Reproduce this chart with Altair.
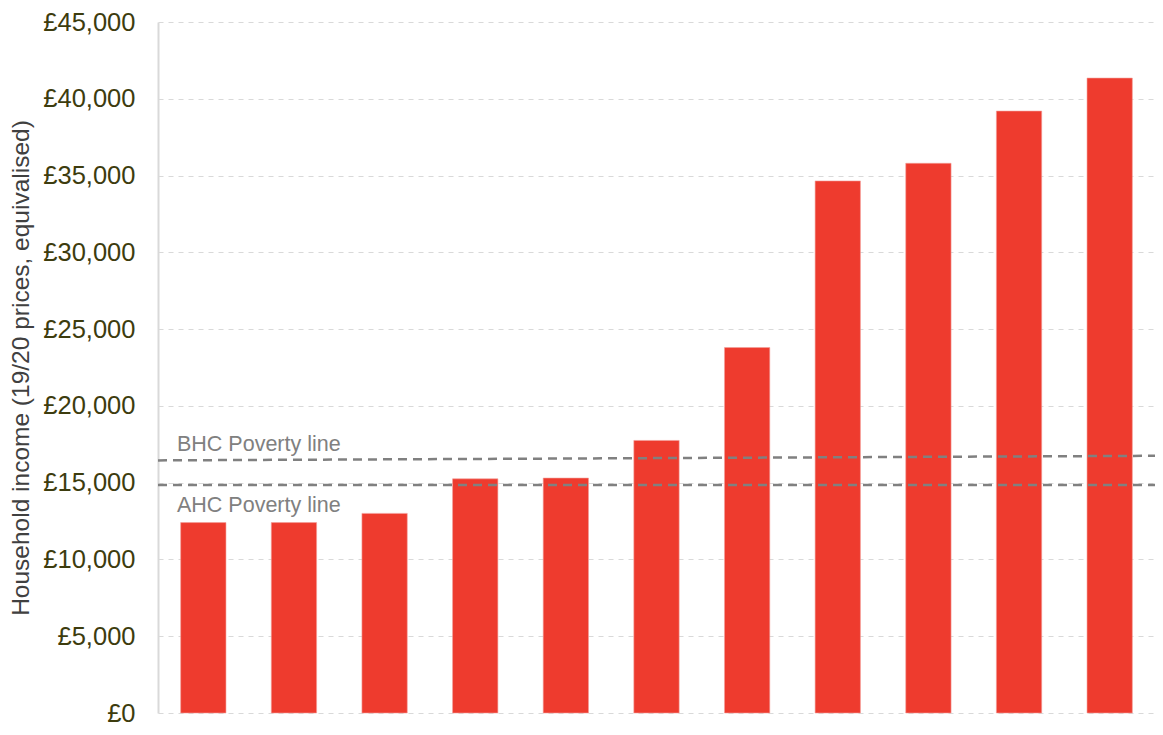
import altair as alt
import pandas as pd

# ---- data ----
groups = [str(i) for i in range(1, 12)]
incomes = [12400, 12400, 13000, 15250, 15300, 17750, 23800, 34650, 35800, 39200, 41350]

line_names = ["BHC Poverty line", "AHC Poverty line"]
line_start = [16450, 14850]
line_end = [16750, 14850]

y_ticks = list(range(0, 45001, 5000))
y_title = "Household income (19/20 prices, equivalised)"

W, H = 997, 691
FONT = "Liberation Sans"

bars_df = pd.DataFrame({"group": groups, "income": incomes})
lines_df = pd.DataFrame({"name": line_names, "start": line_start, "end": line_end})

y_scale = alt.Scale(domain=[0, 45000], nice=False)
y_axis = alt.Axis(
    values=y_ticks,
    labelExpr="'£' + format(datum.value, ',')",
    title=y_title,
)

bars = alt.Chart(bars_df).mark_bar(color="#EE3B2E", stroke="#F4A09A", strokeWidth=0.6).encode(
    x=alt.X("group:N", sort=groups, axis=None,
            scale=alt.Scale(paddingInner=0.5, paddingOuter=0.25)),
    y=alt.Y("income:Q", scale=y_scale, axis=y_axis),
)

rules = alt.Chart(lines_df).mark_rule(
    color="#808080", strokeWidth=2.5, strokeDash=[9, 6]
).encode(
    x=alt.value(0),
    x2=alt.value(W),
    y=alt.Y("start:Q", scale=y_scale, axis=y_axis),
    y2="end:Q",
)

bhc_label = alt.Chart(lines_df).transform_filter(
    alt.datum.name == "BHC Poverty line"
).mark_text(
    align="left", baseline="alphabetic", dy=-9, fontSize=21.5, font=FONT, color="#808080"
).encode(
    x=alt.value(19),
    y=alt.Y("start:Q", scale=y_scale, axis=y_axis),
    text="name:N",
)

ahc_label = alt.Chart(lines_df).transform_filter(
    alt.datum.name == "AHC Poverty line"
).mark_text(
    align="left", baseline="alphabetic", dy=27, fontSize=21.5, font=FONT, color="#808080"
).encode(
    x=alt.value(19),
    y=alt.Y("start:Q", scale=y_scale, axis=y_axis),
    text="name:N",
)

chart = alt.layer(bars, rules, bhc_label, ahc_label).properties(
    width=W,
    height=H,
    autosize=alt.AutoSizeParams(type="none"),
    padding={"left": 150, "top": 14, "right": 0, "bottom": 13},
).configure_view(
    stroke=None
).configure_axisY(
    labelFont=FONT,
    labelFontSize=25.5,
    labelColor="#3D3C0E",
    labelPadding=23,
    tickSize=0,
    domainColor="#D9D9D9",
    domainWidth=2,
    grid=True,
    gridColor="#D9D9D9",
    gridDash=[5, 5],
    gridWidth=1,
    titleFont=FONT,
    titleFontSize=24.5,
    titleFontWeight="normal",
    titleColor="#404040",
    titlePadding=9,
)

chart.save("out.html", embed_options={"renderer": "svg", "actions": False})
